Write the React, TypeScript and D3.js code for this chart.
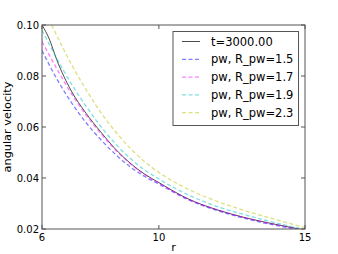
import React from "react";
import * as d3 from "d3";

const rBlack = [6, 6.25, 6.5, 7, 7.5, 8, 8.5, 9, 9.5, 10, 11, 12, 13, 14, 14.8];
const wBlack = [0.1, 0.0945, 0.0865, 0.0742, 0.0655, 0.0582, 0.0515, 0.046, 0.0416, 0.0382, 0.0318, 0.0275, 0.0243, 0.0218, 0.02];

const rBlue = [6, 6.5, 7, 7.5, 8, 8.5, 9, 9.5, 10, 11, 12, 13, 14, 14.7];
const wBlue = [0.09, 0.079, 0.0697, 0.0618, 0.0552, 0.0494, 0.0445, 0.0407, 0.0376, 0.0315, 0.0272, 0.024, 0.0214, 0.02];

const rMagenta = [6, 6.5, 7, 7.5, 8, 8.5, 9, 9.5, 10, 11, 12, 13, 14, 14.8];
const wMagenta = [0.0935, 0.083, 0.0732, 0.0648, 0.0576, 0.0512, 0.0458, 0.0414, 0.038, 0.0318, 0.0275, 0.0243, 0.0217, 0.02];

const rCyan = [6, 6.5, 7, 7.5, 8, 8.5, 9, 9.5, 10, 11, 12, 13, 14, 14.9];
const wCyan = [0.098, 0.087, 0.077, 0.0683, 0.0604, 0.0536, 0.0479, 0.0433, 0.0396, 0.0334, 0.0288, 0.0254, 0.0224, 0.02];

const rYellow = [6.33, 6.5, 7, 7.5, 8, 8.5, 9, 9.5, 10, 11, 12, 13, 14, 15];
const wYellow = [0.1, 0.096, 0.0847, 0.0748, 0.0659, 0.0584, 0.0519, 0.0465, 0.0422, 0.0356, 0.0308, 0.027, 0.0237, 0.0205];

const xTicks = [6, 10, 15];
const yTicks = [0.02, 0.04, 0.06, 0.08, 0.1];

const series = [
  { label: "t=3000.00", r: rBlack, w: wBlack, color: "#000000", opacity: 0.7, dash: null },
  { label: "pw, R_pw=1.5", r: rBlue, w: wBlue, color: "#0000ff", opacity: 0.5, dash: "4,2.5" },
  { label: "pw, R_pw=1.7", r: rMagenta, w: wMagenta, color: "#ff00ff", opacity: 0.5, dash: "4,2.5" },
  { label: "pw, R_pw=1.9", r: rCyan, w: wCyan, color: "#00bfbf", opacity: 0.5, dash: "4,2.5" },
  { label: "pw, R_pw=2.3", r: rYellow, w: wYellow, color: "#bfbf00", opacity: 0.5, dash: "4,2.5" },
];

const W = 338;
const H = 254;
const m = { left: 42, right: 33, top: 25, bottom: 25 };
const font = "DejaVu Sans, sans-serif";

export default function App() {
  const x = d3.scaleLinear().domain([6, 15]).range([m.left, W - m.right]);
  const y = d3.scaleLinear().domain([0.02, 0.1]).range([H - m.bottom, m.top]);
  const line = d3
    .line<[number, number]>()
    .x((d) => x(d[0]))
    .y((d) => y(d[1]))
    .curve(d3.curveMonotoneX);

  const x0 = x.range()[0];
  const x1 = x.range()[1];
  const y0 = y.range()[0];
  const y1 = y.range()[1];

  const lgX = 173;
  const lgY = 31.5;
  const rowH = 17.8;

  return (
    <svg
      width={W}
      height={H}
      style={{ position: "absolute", left: 0, top: 0, display: "block" }}
      fontFamily={font}
    >
      <rect width={W} height={H} fill="white" />
      <defs>
        <clipPath id="plot">
          <rect x={x0} y={y1} width={x1 - x0} height={y0 - y1} />
        </clipPath>
      </defs>

      <g clipPath="url(#plot)">
        {series.map((s) => (
          <path
            key={s.label}
            d={line(s.r.map((r, i) => [r, s.w[i]] as [number, number])) || ""}
            fill="none"
            stroke={s.color}
            strokeOpacity={s.opacity}
            strokeWidth={s.dash ? 1.3 : 1}
            strokeDasharray={s.dash || undefined}
          />
        ))}
      </g>

      {/* ticks, inward on all four sides */}
      {xTicks.map((t) => (
        <g key={"x" + t} stroke="#555" strokeWidth={1}>
          <line x1={x(t)} x2={x(t)} y1={y0} y2={y0 - 4} />
          <line x1={x(t)} x2={x(t)} y1={y1} y2={y1 + 4} />
        </g>
      ))}
      {yTicks.map((t) => (
        <g key={"y" + t} stroke="#555" strokeWidth={1}>
          <line x1={x0} x2={x0 + 4} y1={y(t)} y2={y(t)} />
          <line x1={x1} x2={x1 - 4} y1={y(t)} y2={y(t)} />
        </g>
      ))}

      <rect
        x={x0}
        y={y1}
        width={x1 - x0}
        height={y0 - y1}
        fill="none"
        stroke="#555"
        strokeWidth={1}
      />

      {xTicks.map((t) => (
        <text key={"xl" + t} x={x(t)} y={y0 + 12} fontSize={10} textAnchor="middle" fill="#000">
          {t}
        </text>
      ))}
      {yTicks.map((t) => (
        <text
          key={"yl" + t}
          x={x0 - 3}
          y={y(t) + 3.5}
          fontSize={10}
          textAnchor="end"
          fill="#000"
        >
          {t.toFixed(2)}
        </text>
      ))}

      <text x={(x0 + x1) / 2} y={251} fontSize={11.3} textAnchor="middle" fill="#000">
        r
      </text>
      <text
        transform={`translate(11,${(y0 + y1) / 2}) rotate(-90)`}
        fontSize={11.3}
        textAnchor="middle"
        fill="#000"
      >
        angular velocity
      </text>

      {/* legend */}
      <rect x={lgX} y={lgY} width={125.5} height={94} fill="white" stroke="#555" strokeWidth={1} />
      {series.map((s, i) => {
        const cy = lgY + 10 + i * rowH;
        return (
          <g key={"lg" + s.label}>
            <line
              x1={lgX + 9}
              x2={lgX + 27}
              y1={cy}
              y2={cy}
              stroke={s.color}
              strokeOpacity={s.opacity}
              strokeWidth={s.dash ? 1.3 : 1}
              strokeDasharray={s.dash || undefined}
            />
            <text x={lgX + 38} y={cy + 4} fontSize={11.5} fill="#000">
              {s.label}
            </text>
          </g>
        );
      })}
    </svg>
  );
}
